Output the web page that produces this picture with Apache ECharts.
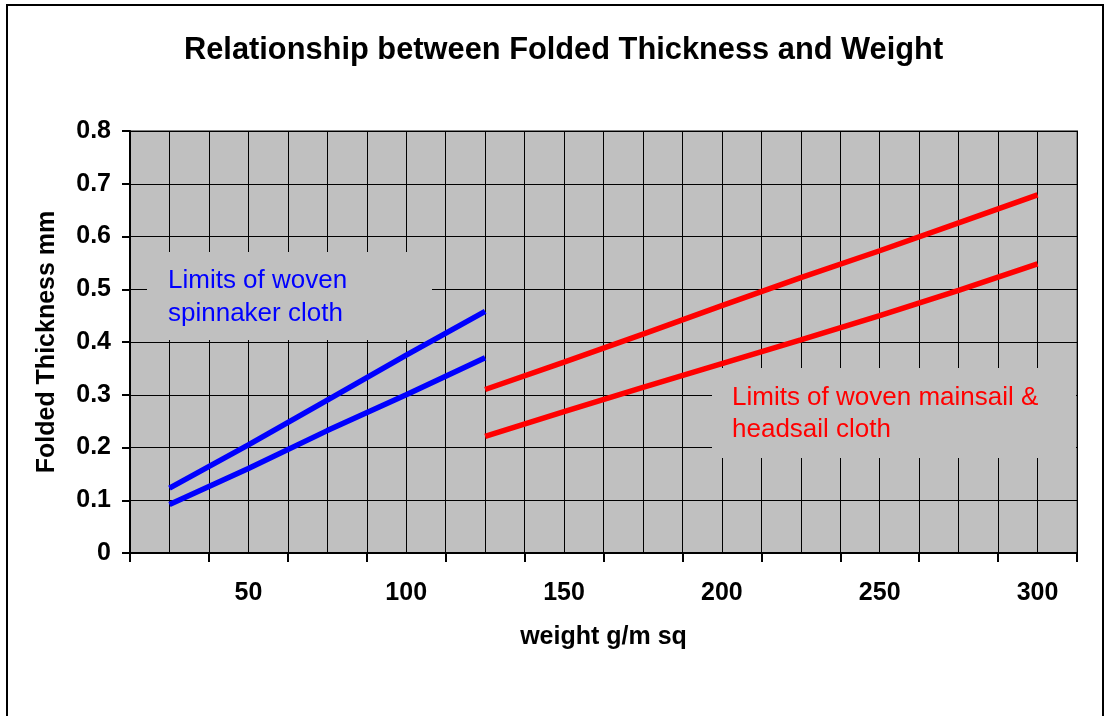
<!DOCTYPE html>
<html>
<head>
<meta charset="utf-8">
<title>Relationship between Folded Thickness and Weight</title>
<script src="https://cdn.jsdelivr.net/npm/echarts@6/dist/echarts.min.js"></script>
<style>
  html, body { margin: 0; padding: 0; background: #fff; }
  #chart { width: 1110px; height: 716px; }
</style>
</head>
<body>
<div id="chart"></div>
<script>
// 数据：读自原图
var spinWeights = [25, 50, 75, 100, 125];
var spinUpper = [0.123, 0.205, 0.29, 0.375, 0.458];
var spinLower = [0.092, 0.16, 0.232, 0.30, 0.37];

var mainWeights = [125, 150, 175, 200, 225, 250, 275, 300];
var mainUpper = [0.31, 0.362, 0.415, 0.469, 0.522, 0.573, 0.626, 0.679];
var mainLower = [0.221, 0.268, 0.314, 0.359, 0.404, 0.45, 0.498, 0.548];

// 坐标轴刻度
var xLabelValues = [50, 100, 150, 200, 250, 300];
var xTickValues = [12.5, 37.5, 62.5, 87.5, 112.5, 137.5, 162.5, 187.5, 212.5, 237.5, 262.5, 287.5, 312.5];

function pairs(xs, ys) {
    var out = [];
    for (var i = 0; i < xs.length; i++) {
        out.push([xs[i], ys[i]]);
    }
    return out;
}

var font = '"Liberation Sans", Arial, sans-serif';

var option = {
    backgroundColor: '#ffffff',
    animation: false,
    title: {
        text: 'Relationship between Folded Thickness and Weight',
        left: 179,
        top: 30,
        textStyle: {
            fontFamily: font,
            fontSize: 30.8,
            fontWeight: 'bold',
            color: '#000'
        }
    },
    grid: {
        left: 130,
        right: 33,
        top: 131,
        bottom: 163,
        show: true,
        backgroundColor: '#c0c0c0',
        borderColor: '#808080',
        borderWidth: 2
    },
    xAxis: [
        {
            type: 'value',
            min: 12.5,
            max: 312.5,
            interval: 12.5,
            name: 'weight g/m sq',
            nameLocation: 'middle',
            nameGap: 72,
            nameTextStyle: { fontFamily: font, fontSize: 25, fontWeight: 'bold', color: '#000' },
            axisLine: { show: true, lineStyle: { color: '#000', width: 2 } },
            axisTick: { show: true, length: 9, customValues: xTickValues, lineStyle: { color: '#000', width: 2 } },
            axisLabel: {
                customValues: xLabelValues,
                margin: 28,
                fontFamily: font,
                fontSize: 25,
                fontWeight: 'bold',
                color: '#000'
            },
            splitLine: { show: false },
            z: 2
        },
        {
            // 只用来画每 12.5 一条的竖向网格线
            type: 'value',
            min: 12.5,
            max: 312.5,
            interval: 12.5,
            position: 'bottom',
            axisLine: { show: false },
            axisTick: { show: false },
            axisLabel: { show: false },
            splitLine: { show: true, lineStyle: { color: '#000', width: 1 } },
            z: 0
        }
    ],
    yAxis: {
        type: 'value',
        min: 0,
        max: 0.8,
        interval: 0.1,
        name: 'Folded Thickness mm',
        nameLocation: 'middle',
        nameGap: 70,
        nameTextStyle: { fontFamily: font, fontSize: 25, fontWeight: 'bold', color: '#000' },
        axisLine: { show: true, lineStyle: { color: '#000', width: 2 } },
        axisTick: { show: true, length: 8, lineStyle: { color: '#000', width: 2 } },
        axisLabel: {
            margin: 19,
            fontFamily: font,
            fontSize: 25,
            fontWeight: 'bold',
            color: '#000',
            formatter: function (v) { return v === 0 ? '0' : v.toFixed(1); }
        },
        splitLine: { show: true, lineStyle: { color: '#000', width: 1 } }
    },
    graphic: [
        // 外框
        {
            type: 'rect',
            z: 0,
            shape: { x: 7, y: 5, width: 1096, height: 730 },
            style: { fill: null, stroke: '#000', lineWidth: 2 }
        },
        // 说明框：spinnaker
        {
            type: 'rect',
            z: 1,
            shape: { x: 147, y: 252, width: 285, height: 88 },
            style: { fill: '#c0c0c0' }
        },
        {
            type: 'text',
            z: 1,
            x: 168,
            y: 264,
            style: {
                text: 'Limits of woven\nspinnaker cloth',
                fill: '#0000ff',
                font: '26px ' + font,
                lineHeight: 33
            }
        },
        // 说明框：mainsail & headsail
        {
            type: 'rect',
            z: 1,
            shape: { x: 712, y: 368, width: 364, height: 90 },
            style: { fill: '#c0c0c0' }
        },
        {
            type: 'text',
            z: 1,
            x: 732,
            y: 382,
            style: {
                text: 'Limits of woven mainsail &\nheadsail cloth',
                fill: '#ff0000',
                font: '26px ' + font,
                lineHeight: 32
            }
        }
    ],
    series: [
        {
            name: 'spinnaker upper',
            type: 'line',
            z: 3,
            showSymbol: false,
            data: pairs(spinWeights, spinUpper),
            lineStyle: { color: '#0000ff', width: 5.5 }
        },
        {
            name: 'spinnaker lower',
            type: 'line',
            z: 3,
            showSymbol: false,
            data: pairs(spinWeights, spinLower),
            lineStyle: { color: '#0000ff', width: 5.5 }
        },
        {
            name: 'mainsail upper',
            type: 'line',
            z: 3,
            showSymbol: false,
            data: pairs(mainWeights, mainUpper),
            lineStyle: { color: '#ff0000', width: 5.5 }
        },
        {
            name: 'mainsail lower',
            type: 'line',
            z: 3,
            showSymbol: false,
            data: pairs(mainWeights, mainLower),
            lineStyle: { color: '#ff0000', width: 5.5 }
        }
    ]
};

var myChart = echarts.init(document.getElementById('chart'));
myChart.setOption(option);
</script>
</body>
</html>
